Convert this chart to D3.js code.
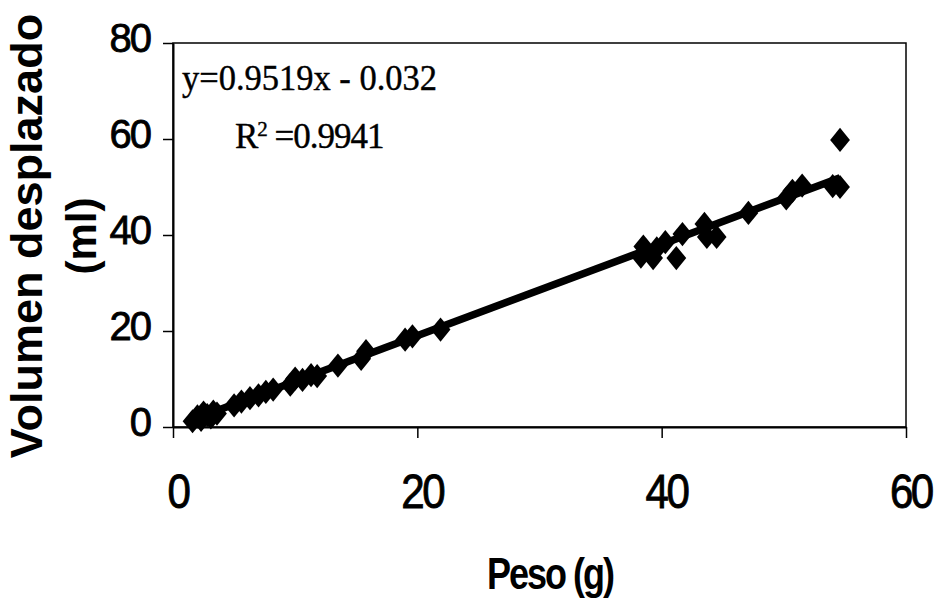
<!DOCTYPE html>
<html>
<head>
<meta charset="utf-8">
<script src="https://cdn.jsdelivr.net/npm/d3@7"></script>
<style>
  html, body { margin: 0; padding: 0; background: #fff; }
  svg { display: block; }
</style>
</head>
<body>
<svg id="chart" width="934" height="601"></svg>
<script>
// Weight (g) vs displaced volume (ml)
const pesoG = [1.6, 2.0, 2.3, 2.5, 2.8, 3.1, 3.3, 3.6,
  5.0, 5.6, 6.3, 7.0, 7.6, 8.2, 9.6, 10.0, 10.6, 11.3, 11.8,
  13.5, 15.4, 15.8, 19.0, 19.6, 21.9,
  38.3, 38.5, 39.3, 39.6, 40.3, 41.2, 41.7, 43.5, 43.7, 44.5,
  47.1, 50.2, 50.7, 51.5, 54.0, 54.6, 54.6];
const volumenMl = [1.2, 2.2, 1.5, 3.0, 2.5, 2.0, 3.2, 2.8,
  4.5, 5.3, 6.0, 6.6, 7.3, 7.8, 8.8, 10.1, 9.8, 10.8, 10.6,
  12.8, 14.2, 15.8, 18.2, 18.9, 20.3,
  35.5, 37.6, 35.2, 37.2, 38.5, 35.2, 40.2, 42.3, 39.6, 39.6,
  44.6, 47.6, 49.2, 50.3, 50.2, 50.0, 59.8];

// Linear trend line fitted to the data
const slope = 0.9519;
const intercept = -0.032;
const rSquared = 0.9941;

const xTicks = [0, 20, 40, 60];
const yTicks = [0, 20, 40, 60, 80];

const svg = d3.select("#chart");
const plotLeft = 173, plotRight = 906, plotTop = 43, plotBottom = 427;

const x = d3.scaleLinear().domain([0, 60]).range([plotLeft, plotRight]);
const y = d3.scaleLinear().domain([0, 80]).range([plotBottom, plotTop]);

// Plot frame
svg.append("rect")
  .attr("x", plotLeft).attr("y", plotTop)
  .attr("width", plotRight - plotLeft).attr("height", plotBottom - plotTop)
  .attr("fill", "none").attr("stroke", "#000").attr("stroke-width", 1.5);

const sans = "'Liberation Sans', Arial, sans-serif";

// X axis (condensed, slightly heavy digits)
const gx = svg.append("g")
  .attr("transform", `translate(0,${plotBottom})`)
  .call(d3.axisBottom(x).tickValues(xTicks).tickSize(11).tickSizeOuter(0).tickPadding(35));
gx.select(".domain").attr("stroke-width", 2);
gx.selectAll(".tick line").attr("stroke-width", 1.5);
gx.selectAll(".tick text")
  .attr("font-family", sans)
  .attr("font-size", 49)
  .attr("fill", "#000")
  .attr("stroke", "#000").attr("stroke-width", 0.9)
  .attr("dx", 5)
  .attr("transform", "scale(0.86,1)")
  .style("letter-spacing", "-3px");

// Y axis
const gy = svg.append("g")
  .attr("transform", `translate(${plotLeft},0)`)
  .call(d3.axisLeft(y).tickValues(yTicks).tickSize(10).tickSizeOuter(0).tickPadding(13));
gy.select(".domain").attr("stroke-width", 2);
gy.selectAll(".tick line").attr("stroke-width", 1.5);
gy.selectAll(".tick text")
  .attr("font-family", sans)
  .attr("font-size", 40)
  .attr("fill", "#000")
  .attr("stroke", "#000").attr("stroke-width", 0.8)
  .attr("dy", "0.22em")
  .style("letter-spacing", "-2px");

// Trend line across the data range
const xExt = d3.extent(pesoG);
svg.append("line")
  .attr("x1", x(xExt[0])).attr("y1", y(slope * xExt[0] + intercept))
  .attr("x2", x(xExt[1])).attr("y2", y(slope * xExt[1] + intercept))
  .attr("stroke", "#000").attr("stroke-width", 7.5);

// Diamond markers
const diamond = {
  draw(ctx, size) {
    const w = Math.sqrt(size) * 0.45, h = Math.sqrt(size) * 0.55;
    ctx.moveTo(0, -h); ctx.lineTo(w, 0); ctx.lineTo(0, h); ctx.lineTo(-w, 0); ctx.closePath();
  }
};
const sym = d3.symbol().type(diamond).size(484);
svg.append("g").selectAll("path")
  .data(pesoG.map((p, i) => [p, volumenMl[i]]))
  .join("path")
  .attr("d", sym)
  .attr("transform", d => `translate(${x(d[0])},${y(d[1])})`)
  .attr("fill", "#000");

// Equation and R² annotation
const serif = "'Liberation Serif', 'Times New Roman', serif";
svg.append("text")
  .attr("x", 182).attr("y", 90)
  .attr("font-family", serif).attr("font-size", 35)
  .attr("stroke", "#000").attr("stroke-width", 0.4)
  .attr("textLength", 255).attr("lengthAdjust", "spacingAndGlyphs")
  .text(`y=${slope}x - ${Math.abs(intercept)}`);
const r2 = svg.append("text")
  .attr("x", 235).attr("y", 148)
  .attr("font-family", serif).attr("font-size", 35)
  .attr("stroke", "#000").attr("stroke-width", 0.4)
  .style("letter-spacing", "-1px");
r2.append("tspan").text("R");
r2.append("tspan").attr("font-size", 21).attr("dy", -12).text("2");
r2.append("tspan").attr("dy", 12).text(` =${rSquared}`);

// Axis titles
svg.append("text")
  .attr("transform", "translate(550,589) scale(0.8,1)")
  .attr("text-anchor", "middle")
  .attr("font-family", sans).attr("font-weight", "bold").attr("font-size", 45)
  .style("letter-spacing", "-2.5px")
  .text("Peso (g)");

const yTitle = svg.append("g").attr("transform", "translate(0,236) rotate(-90)");
yTitle.append("text")
  .attr("x", 0).attr("y", 42)
  .attr("text-anchor", "middle")
  .attr("font-family", sans).attr("font-weight", "bold").attr("font-size", 45)
  .text("Volumen desplazado");
yTitle.append("text")
  .attr("x", 0).attr("y", 96)
  .attr("text-anchor", "middle")
  .attr("font-family", sans).attr("font-weight", "bold").attr("font-size", 42)
  .text("(ml)");
</script>
</body>
</html>
